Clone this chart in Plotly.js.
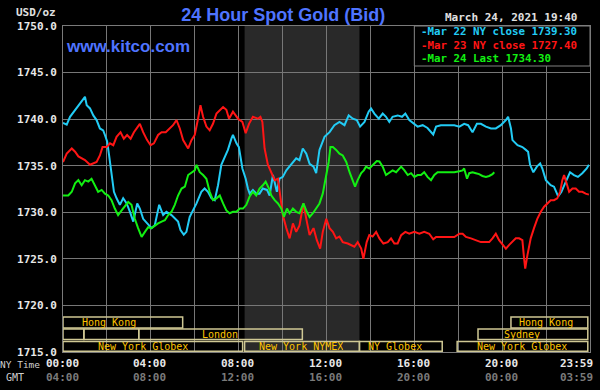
<!DOCTYPE html>
<html>
<head>
<meta charset="utf-8">
<script src="https://cdn.plot.ly/plotly-3.0.1.min.js"></script>
<style>html,body{margin:0;padding:0;background:#000;}#chart{width:600px;height:390px;}</style>
</head>
<body>
<div id="chart"></div>
<script>
// ---- Data (NY time in decimal hours, price in USD/oz) ----
const hours22 = [0,0.17,0.32,0.55,0.77,1.0,1.08,1.23,1.38,1.53,1.68,1.83,1.91,2.01,2.10,2.21,2.32,2.44,2.59,2.74,2.90,3.05,3.20,3.38,3.50,3.65,3.83,4.03,4.18,4.38,4.56,4.71,4.94,5.09,5.24,5.35,5.50,5.62,5.77,5.92,6.08,6.30,6.45,6.60,6.76,6.91,7.06,7.21,7.36,7.51,7.67,7.74,7.90,8.01,8.17,8.32,8.42,8.50,8.65,8.80,8.95,9.10,9.29,9.41,9.56,9.74,9.86,10.01,10.17,10.32,10.47,10.62,10.77,10.92,11.08,11.23,11.41,11.53,11.68,11.91,12.14,12.36,12.59,12.82,13.01,13.20,13.38,13.53,13.73,13.92,14.03,14.18,14.38,14.56,14.71,14.86,15.01,15.24,15.44,15.59,15.77,16.0,16.15,16.38,16.60,16.86,16.99,17.21,17.5,17.82,18.05,18.27,18.45,18.65,18.85,19.03,19.26,19.49,19.71,19.94,20.17,20.27,20.40,20.47,20.70,20.92,21.08,21.18,21.27,21.42,21.58,21.73,21.83,21.99,22.21,22.36,22.55,22.70,22.90,23.09,23.27,23.45,23.65,23.85,23.95];
const gold22 = [1739.6,1739.4,1740.25,1741.0,1741.7,1742.4,1741.5,1741.15,1740.4,1739.9,1739.0,1738.8,1738.3,1737.6,1736.1,1734.3,1732.2,1731.5,1730.8,1731.5,1730.95,1730.05,1729.0,1730.95,1730.4,1729.3,1728.8,1728.3,1728.6,1730.8,1729.7,1730.05,1729.7,1729.3,1729.0,1728.1,1727.6,1727.9,1729.5,1730.2,1730.95,1732.2,1732.55,1732.2,1731.5,1731.3,1732.9,1735.1,1736.0,1736.7,1737.9,1738.3,1737.4,1737.0,1734.7,1733.6,1732.55,1732.0,1732.4,1732.0,1732.0,1732.55,1732.4,1731.8,1734.0,1732.2,1733.6,1733.8,1734.5,1734.9,1735.4,1735.8,1735.6,1736.85,1736.3,1735.2,1734.9,1734.2,1736.7,1738.1,1738.6,1739.35,1739.7,1739.35,1740.4,1740.05,1739.9,1739.2,1739.7,1740.8,1741.15,1740.6,1740.05,1740.6,1740.25,1739.7,1740.25,1740.4,1740.25,1740.6,1739.9,1739.5,1739.2,1739.35,1739.05,1738.35,1739.2,1739.35,1739.35,1739.35,1739.2,1739.5,1739.35,1738.6,1739.5,1739.5,1739.2,1739.0,1739.0,1739.35,1739.9,1740.25,1739.0,1737.75,1737.2,1737.0,1736.7,1736.5,1735.1,1734.3,1734.9,1735.25,1734.7,1733.45,1732.9,1732.75,1731.7,1732.2,1733.3,1734.3,1734.0,1733.8,1734.2,1734.7,1735.1];

const hours23 = [0,0.17,0.40,0.55,0.70,0.85,1.0,1.23,1.38,1.53,1.68,1.80,1.99,2.14,2.29,2.44,2.62,2.77,2.92,3.08,3.23,3.50,3.65,3.83,3.99,4.14,4.33,4.49,4.68,4.86,5.01,5.17,5.32,5.47,5.70,5.85,6.0,6.15,6.26,6.38,6.53,6.68,6.83,6.99,7.14,7.29,7.44,7.56,7.74,7.97,8.17,8.32,8.47,8.65,8.88,8.99,9.08,9.18,9.33,9.49,9.64,9.79,9.90,10.01,10.17,10.32,10.47,10.62,10.77,10.95,11.08,11.23,11.41,11.56,11.71,11.83,11.99,12.14,12.29,12.44,12.59,12.74,12.97,13.12,13.27,13.42,13.58,13.68,13.83,13.95,14.10,14.26,14.41,14.59,14.79,14.94,15.09,15.24,15.40,15.59,15.77,16.0,16.23,16.45,16.68,16.86,16.99,17.82,18.05,18.20,18.35,18.58,18.80,19.03,19.26,19.41,19.56,19.71,19.86,20.01,20.17,20.32,20.47,20.62,20.77,20.92,21.0,21.05,21.15,21.30,21.45,21.60,21.76,21.91,22.06,22.21,22.36,22.51,22.64,22.74,22.82,22.94,23.05,23.20,23.35,23.5,23.65,23.80,23.95];
const gold23 = [1735.4,1736.3,1736.85,1736.5,1736.0,1735.8,1735.6,1735.1,1735.25,1735.4,1736.1,1737.0,1737.0,1737.4,1737.2,1738.1,1738.6,1737.9,1738.3,1737.9,1738.6,1739.5,1738.6,1737.75,1737.2,1737.4,1738.3,1738.6,1738.6,1739.0,1739.35,1739.9,1739.0,1737.75,1736.85,1737.75,1738.3,1740.05,1741.5,1740.25,1739.2,1738.8,1739.5,1740.6,1741.0,1741.3,1741.0,1740.05,1740.8,1740.05,1739.7,1738.5,1739.5,1740.25,1740.05,1740.25,1739.7,1736.85,1735.1,1734.2,1733.45,1733.6,1731.8,1729.7,1728.3,1727.2,1728.8,1727.9,1728.6,1730.95,1729.3,1727.55,1728.3,1727.0,1726.1,1727.9,1729.3,1728.3,1727.9,1727.2,1727.4,1726.8,1726.65,1726.5,1726.3,1726.8,1726.1,1725.0,1726.8,1727.55,1727.4,1727.9,1727.2,1726.65,1726.8,1727.2,1726.65,1726.65,1727.55,1727.9,1727.7,1727.9,1727.7,1727.9,1727.7,1727.1,1727.35,1727.35,1727.7,1727.7,1727.35,1727.2,1727.0,1726.8,1726.8,1726.8,1727.2,1727.7,1727.0,1726.5,1726.1,1726.5,1726.8,1727.2,1727.2,1727.0,1725.0,1723.95,1725.4,1727.2,1728.3,1729.3,1730.05,1730.6,1730.95,1731.3,1731.3,1731.5,1732.2,1733.45,1734.0,1732.9,1732.2,1732.55,1732.55,1732.2,1732.2,1732.0,1731.9];

const hours24 = [0,0.24,0.40,0.55,0.70,0.85,1.0,1.15,1.30,1.45,1.60,1.76,1.91,2.06,2.21,2.36,2.51,2.67,2.82,2.97,3.12,3.27,3.42,3.58,3.73,3.88,4.03,4.18,4.33,4.49,4.64,4.79,4.94,5.09,5.24,5.40,5.55,5.70,5.85,6.0,6.08,6.23,6.38,6.53,6.68,6.83,6.99,7.14,7.29,7.44,7.59,7.74,7.90,8.05,8.20,8.35,8.50,8.65,8.80,8.95,9.10,9.23,9.38,9.49,9.64,9.79,9.94,10.06,10.20,10.32,10.47,10.62,10.77,10.95,11.10,11.23,11.38,11.53,11.68,11.83,11.99,12.10,12.18,12.29,12.44,12.59,12.74,12.90,13.05,13.20,13.30,13.42,13.58,13.70,13.80,13.95,14.10,14.29,14.41,14.56,14.71,14.86,15.01,15.17,15.40,15.55,15.70,15.85,16.0,16.15,16.30,16.45,16.60,16.76,16.91,17.06,17.82,18.05,18.20,18.27,18.40,18.50,18.65,18.80,18.95,19.10,19.26,19.41,19.56,19.64];
const gold24 = [1731.8,1731.8,1732.2,1733.1,1733.45,1732.9,1733.45,1733.3,1733.6,1732.9,1732.2,1732.4,1732.0,1731.8,1731.3,1730.4,1729.7,1730.2,1730.6,1731.1,1730.8,1729.3,1728.3,1727.35,1727.9,1728.4,1728.3,1728.6,1728.8,1729.0,1729.15,1729.7,1730.05,1730.8,1731.8,1732.55,1732.75,1734.0,1734.3,1734.5,1735.1,1734.3,1734.0,1733.6,1732.2,1731.3,1731.5,1731.8,1730.95,1730.2,1729.9,1730.05,1730.05,1730.4,1730.4,1730.8,1731.7,1732.2,1731.8,1732.55,1732.9,1733.3,1732.55,1731.8,1731.3,1730.95,1730.4,1729.5,1730.4,1729.9,1730.4,1730.05,1729.9,1730.95,1730.05,1729.5,1729.9,1730.4,1730.95,1732.0,1734.0,1735.4,1737.0,1737.0,1736.7,1736.3,1736.1,1735.4,1734.3,1733.3,1732.75,1733.45,1734.2,1734.5,1734.9,1734.7,1735.1,1735.5,1735.45,1734.9,1734.0,1734.3,1734.5,1734.3,1734.9,1734.5,1734.0,1734.2,1733.8,1734.0,1734.0,1734.3,1733.8,1733.45,1734.0,1734.3,1734.3,1734.4,1734.5,1734.7,1733.6,1734.2,1734.3,1734.2,1734.1,1733.9,1733.8,1733.9,1734.1,1734.3];

const seriesNames = ['Mar 22 NY close 1739.30', 'Mar 23 NY close 1727.40', 'Mar 24 Last 1734.30'];

const nyTickHours = [0, 4, 8, 12, 16, 20, 23.98];
const nyTickLabels = ['00:00', '04:00', '08:00', '12:00', '16:00', '20:00', '23:59'];
const gmtTickLabels = ['04:00', '08:00', '12:00', '16:00', '20:00', '00:00', '03:59'];

const sessionLabels = ['Hong Kong', '', '', 'London', 'New York Globex', 'New York NYMEX', 'NY Globex', 'New York Globex', 'Sydney', 'Hong Kong'];
const sessionStart = [0, 0, 0.95, 3.45, 0, 8.27, 13.5, 17.95, 18.9, 20.4];
const sessionEnd   = [5.45, 0.95, 3.45, 10.9, 8.18, 13.5, 17.27, 23.9, 23.9, 23.9];
const sessionRow   = [1, 2, 2, 2, 3, 3, 3, 3, 2, 1];
const sessionLabelX = [2.1, null, null, 7.15, 3.65, 10.86, 15.14, 20.9, 20.9, 22.0];

const nymexStart = 8.27, nymexEnd = 13.5;

// ---- Styles ----
const colors = ['#22CCF5', '#FF1515', '#12F012'];
const mono = 'DejaVu Sans Mono, monospace';
const rowY = {1: [0.074, 0.107], 2: [0.0385, 0.0706], 3: [0.002, 0.0325]};

const traces = [[hours22, gold22], [hours23, gold23], [hours24, gold24]].map((d, i) => ({
  type: 'scatter', mode: 'lines', x: d[0], y: d[1], name: seriesNames[i],
  line: {color: colors[i], width: 2}, hoverinfo: 'skip', showlegend: false
}));

const shapes = [];
shapes.push({type: 'rect', xref: 'x', yref: 'paper', x0: nymexStart, x1: nymexEnd, y0: 0, y1: 1,
  fillcolor: '#292929', line: {width: 0}, layer: 'below'});
sessionLabels.forEach((lab, i) => {
  const r = rowY[sessionRow[i]];
  shapes.push({type: 'rect', xref: 'x', yref: 'paper', x0: sessionStart[i], x1: sessionEnd[i], y0: r[0], y1: r[1],
    line: {color: '#CFC894', width: 1.5}, fillcolor: 'rgba(0,0,0,0)', layer: 'above'});
});
// legend box
shapes.push({type: 'rect', xref: 'x', yref: 'paper', x0: 16, x1: 24, y0: 0.8773, y1: 1,
  fillcolor: '#000', line: {color: '#808080', width: 1}, layer: 'above'});

const annotations = [];
sessionLabels.forEach((lab, i) => {
  if (!lab) return;
  const r = rowY[sessionRow[i]];
  annotations.push({xref: 'x', yref: 'paper', x: sessionLabelX[i], y: (r[0] + r[1]) / 2, text: lab,
    showarrow: false, xanchor: 'center', yanchor: 'middle', height: 11,
    font: {family: mono, size: 10, color: '#FFC400'}});
});
nyTickHours.forEach((h, i) => {
  const last = i === nyTickHours.length - 1;
  annotations.push({xref: 'x', yref: 'paper', x: h, y: -0.034, text: nyTickLabels[i], showarrow: false,
    xanchor: last ? 'right' : 'center', yanchor: 'middle', xshift: last ? 5 : -1,
    font: {family: mono, size: 11, color: '#E8E8E8', weight: 'bold'}});
  annotations.push({xref: 'x', yref: 'paper', x: h, y: -0.079, text: gmtTickLabels[i], showarrow: false,
    xanchor: last ? 'right' : 'center', yanchor: 'middle', xshift: last ? 5 : -1,
    font: {family: mono, size: 11, color: '#7a7a7a', weight: 'bold'}});
});
annotations.push({xref: 'paper', yref: 'paper', x: -0.04, y: -0.037, text: 'NY Time', showarrow: false,
  xanchor: 'right', yanchor: 'middle', font: {family: mono, size: 9.5, color: '#D0D0D0'}});
annotations.push({xref: 'paper', yref: 'paper', x: -0.07, y: -0.079, text: 'GMT', showarrow: false,
  xanchor: 'right', yanchor: 'middle', font: {family: mono, size: 10, color: '#D0D0D0'}});
annotations.push({xref: 'paper', yref: 'paper', x: -0.01, y: 1.04, text: 'USD/oz', showarrow: false,
  xanchor: 'right', yanchor: 'middle', font: {family: mono, size: 11, color: '#E0E0E0', weight: 'bold'}});
annotations.push({xref: 'paper', yref: 'paper', x: 0.002, y: 0.937, text: 'www.kitco.com', showarrow: false,
  xanchor: 'left', yanchor: 'middle', font: {family: 'Liberation Sans, Arial', size: 17, color: '#4F74FF', weight: 'bold'}});
annotations.push({xref: 'paper', yref: 'paper', x: 0.98, y: 1.027, text: 'March 24, 2021 19:40', showarrow: false,
  xanchor: 'right', yanchor: 'middle', font: {family: mono, size: 11, color: '#E0E0E0', weight: 'bold'}});
const legY = [0.9816, 0.9402, 0.8988];
seriesNames.forEach((n, i) => {
  annotations.push({xref: 'x', yref: 'paper', x: 16.2, y: legY[i], text: '-' + n, showarrow: false,
    xanchor: 'left', yanchor: 'middle', height: 11,
    font: {family: mono, size: 10.8, color: colors[i], weight: 'bold'}});
});

const layout = {
  width: 600, height: 390,
  paper_bgcolor: '#000', plot_bgcolor: '#000',
  margin: {l: 63, r: 10, t: 26, b: 38},
  title: {text: '24 Hour Spot Gold (Bid)', x: 0.472, xref: 'container', y: 0.962, yref: 'container',
    xanchor: 'center', yanchor: 'middle', font: {family: 'Liberation Sans, Arial', size: 18, color: '#4F74FF', weight: 'bold'}},
  xaxis: {range: [0, 24], dtick: 2, tick0: 0, showgrid: true, gridcolor: '#777777', gridwidth: 1,
    showticklabels: false, zeroline: false, showline: true, linecolor: '#7a7a7a', linewidth: 1, mirror: true, ticks: ''},
  yaxis: {range: [1715, 1750], dtick: 5, tick0: 1715, showgrid: true, gridcolor: '#777777', gridwidth: 1,
    tickformat: '.1f', ticks: '', ticklabelstandoff: 3, zeroline: false, showline: true, linecolor: '#7a7a7a', linewidth: 1, mirror: true,
    tickfont: {family: mono, size: 11, color: '#E8E8E8', weight: 'bold'}},
  shapes: shapes,
  annotations: annotations,
  showlegend: false
};

Plotly.newPlot('chart', traces, layout, {displayModeBar: false, staticPlot: true});
</script>
</body>
</html>
